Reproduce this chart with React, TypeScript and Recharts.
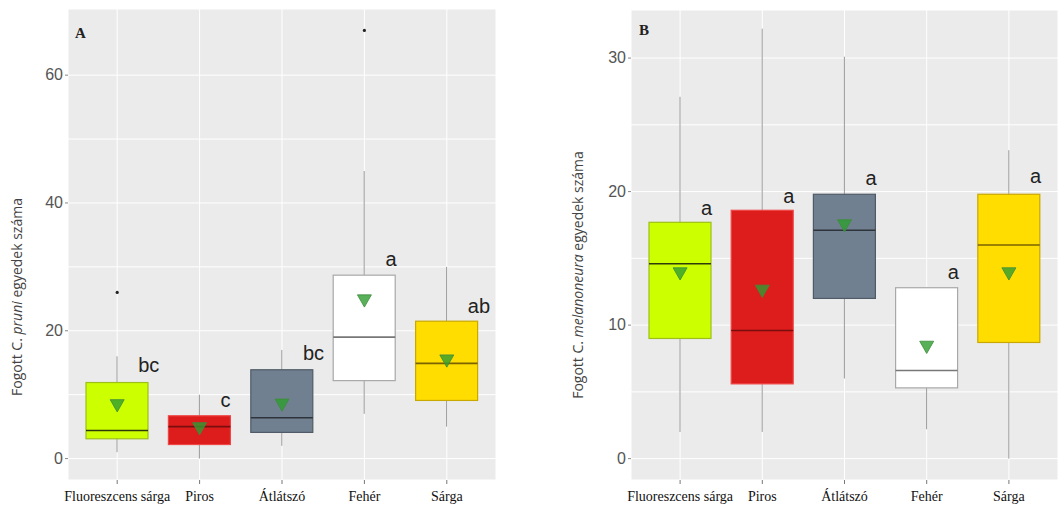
import React from 'react';
import { ComposedChart, Bar, Scatter, XAxis, YAxis, CartesianGrid } from 'recharts';

const categories = ['Fluoreszcens sárga', 'Piros', 'Átlátszó', 'Fehér', 'Sárga'];
const boxFills = ['#CCFF00', '#DD1C1C', '#708090', '#FFFFFF', '#FFDD00'];
const boxStrokes = ['#9DBF1A', '#F04545', '#4F5A66', '#A8A8A8', '#C9A800'];
const medianColors = ['#2F3A0C', '#7A0E0E', '#2E343B', '#777777', '#7A6200'];

// panel A – C. pruni
const aLow = [1, 0, 2, 7, 5];
const aQ1 = [3.1, 2.2, 4.1, 12.2, 9.1];
const aMedian = [4.4, 5, 6.4, 19, 14.9];
const aQ3 = [11.9, 6.7, 13.9, 28.7, 21.5];
const aHigh = [16, 10, 17, 45, 30];
const aMean = [8.4, 4.8, 8.5, 24.8, 15.4];
const aOutlier = [26, null, null, 67, null];
const aLetters = ['bc', 'c', 'bc', 'a', 'ab'];
const aLetterY = [14.6, 9.1, 16.5, 31.3, 23.8];
const aTicks = [0, 10, 20, 30, 40, 50, 60];

// panel B – C. melanoneura
const bLow = [2, 2, 6, 2.2, 0];
const bQ1 = [9, 5.6, 12, 5.3, 8.7];
const bMedian = [14.6, 9.6, 17.1, 6.6, 16];
const bQ3 = [17.7, 18.6, 19.8, 12.8, 19.8];
const bHigh = [27.1, 32.2, 30.1, 12.8, 23.1];
const bMean = [13.9, 12.6, 17.5, 8.4, 13.9];
const bOutlier = [null, null, null, null, null];
const bLetters = ['a', 'a', 'a', 'a', 'a'];
const bLetterY = [18.8, 19.7, 21.0, 14.0, 21.2];
const bTicks = [0, 5, 10, 15, 20, 25, 30];

const buildRows = (low, q1, med, q3, high, mean, outlier, letters, letterY) =>
  categories.map((name, i) => ({
    name,
    idx: i,
    whisker: [low[i], high[i]],
    box: [q1[i], q3[i]],
    q1: q1[i],
    q3: q3[i],
    median: med[i],
    mean: mean[i],
    outlier: outlier[i],
    letter: letters[i],
    letterY: letterY[i],
  }));

const dataA = buildRows(aLow, aQ1, aMedian, aQ3, aHigh, aMean, aOutlier, aLetters, aLetterY);
const dataB = buildRows(bLow, bQ1, bMedian, bQ3, bHigh, bMean, bOutlier, bLetters, bLetterY);

const WhiskerShape = (props: any) => {
  const { x, y, width, height } = props;
  const top = Math.min(y, y + height);
  const h = Math.abs(height);
  return <line x1={x + width / 2} x2={x + width / 2} y1={top} y2={top + h} stroke="#9a9a9a" strokeWidth={1} />;
};

const BoxShape = (props: any) => {
  const { x, y, width, height, payload } = props;
  const top = Math.min(y, y + height);
  const h = Math.abs(height);
  const i = payload.idx;
  // median position from the box's own scale
  const ym = top + ((payload.q3 - payload.median) / (payload.q3 - payload.q1)) * h;
  return (
    <g>
      <rect x={x} y={top} width={width} height={h} fill={boxFills[i]} stroke={boxStrokes[i]} strokeWidth={1.2} />
      <line x1={x} x2={x + width} y1={ym} y2={ym} stroke={medianColors[i]} strokeWidth={1.6} />
    </g>
  );
};

const MeanShape = (props: any) => {
  const { cx, cy } = props;
  if (cx == null || cy == null) return <g />;
  const s = 7;
  return (
    <path
      d={`M${cx - s},${cy - s * 0.75} L${cx + s},${cy - s * 0.75} L${cx},${cy + s} Z`}
      fill="#2E9E2E"
      fillOpacity={0.8}
      stroke="#3C8C3C"
      strokeWidth={0.8}
    />
  );
};

const OutlierShape = (props: any) => {
  const { cx, cy, payload } = props;
  if (payload == null || payload.outlier == null) return <g />;
  return <circle cx={cx} cy={cy} r={1.6} fill="#222" />;
};

const LetterShape = (props: any) => {
  const { cx, cy, payload } = props;
  if (!payload) return <g />;
  return (
    <text
      x={cx + 21}
      y={cy}
      dy={7}
      fill="#222"
      style={{ fontFamily: '"Liberation Sans Narrow", "Liberation Sans", Arial, sans-serif', fontSize: 20 }}
    >
      {payload.letter}
    </text>
  );
};

const makeYTick = (majorStep: number) => (props: any) => {
  const { x, y, payload } = props;
  if (payload.value % majorStep !== 0) return <g />;
  return (
    <g>
      <line x1={x + 2} x2={x + 5} y1={y} y2={y} stroke="#888" strokeWidth={1} />
      <text
        x={x}
        y={y}
        dy={5}
        textAnchor="end"
        fill="#555"
        style={{ fontFamily: '"Liberation Sans", Arial, sans-serif', fontSize: 16 }}
      >
        {payload.value}
      </text>
    </g>
  );
};

const XTick = (props: any) => {
  const { x, y, payload } = props;
  return (
    <text
      x={x}
      y={y}
      dy={15}
      textAnchor="middle"
      fill="#111"
      style={{ fontFamily: '"Liberation Serif", "Times New Roman", serif', fontSize: 14 }}
    >
      {payload.value}
    </text>
  );
};

const Panel = ({ data, domain, ticks, majorStep, yWidth, margin, width }: any) => (
  <ComposedChart
    width={width}
    height={516}
    data={data}
    margin={margin}
    barSize={62}
    barGap={-62}
  >
    <CartesianGrid fill="#EBEBEB" stroke="#FFFFFF" strokeWidth={1} />
    <XAxis
      dataKey="name"
      type="category"
      padding={{ left: 8, right: 8 }}
      axisLine={false}
      tickLine={{ stroke: '#777' }}
      tickSize={4}
      tickMargin={2}
      height={30}
      interval={0}
      tick={XTick}
    />
    <YAxis
      type="number"
      domain={domain}
      ticks={ticks}
      allowDataOverflow
      axisLine={false}
      tickLine={false}
      tickSize={3}
      tickMargin={2}
      width={yWidth}
      tick={makeYTick(majorStep)}
    />
    <Bar dataKey="whisker" shape={<WhiskerShape />} isAnimationActive={false} />
    <Bar dataKey="box" shape={<BoxShape />} isAnimationActive={false} />
    <Scatter dataKey="outlier" shape={<OutlierShape />} isAnimationActive={false} />
    <Scatter dataKey="mean" shape={<MeanShape />} isAnimationActive={false} />
    <Scatter dataKey="letterY" shape={<LetterShape />} isAnimationActive={false} />
  </ComposedChart>
);

export default function App() {
  const titleStyle = { fontFamily: '"Open Sans", "Liberation Sans", sans-serif', fontSize: 14 };
  const panelLabelStyle = { fontFamily: '"Liberation Serif", serif', fontSize: 15, fontWeight: 'bold' as const };
  return (
    <div style={{ position: 'absolute', left: 0, top: 0, width: 1062, height: 516, background: '#fff' }}>
      <div style={{ position: 'absolute', left: 0, top: 0 }}>
        <Panel
          data={dataA}
          domain={[-3.35, 70.35]}
          ticks={aTicks}
          majorStep={20}
          yWidth={68}
          width={530}
          margin={{ top: 9, right: 34, bottom: 6, left: 0 }}
        />
      </div>
      <div style={{ position: 'absolute', left: 531, top: 0 }}>
        <Panel
          data={dataB}
          domain={[-1.6, 33.6]}
          ticks={bTicks}
          majorStep={10}
          yWidth={100}
          width={531}
          margin={{ top: 10, right: 4, bottom: 6, left: 0 }}
        />
      </div>
      <svg width={1062} height={516} style={{ position: 'absolute', left: 0, top: 0, pointerEvents: 'none' }}>
        <text x={75} y={38} fill="#222" style={panelLabelStyle}>A</text>
        <text x={639} y={35} fill="#222" style={panelLabelStyle}>B</text>
        <text transform="translate(22,297) rotate(-90)" textAnchor="middle" fill="#444" style={titleStyle}>
          Fogott C. <tspan fontStyle="italic">pruni</tspan> egyedek száma
        </text>
        <text transform="translate(583,275) rotate(-90)" textAnchor="middle" fill="#444" style={titleStyle}>
          Fogott C. <tspan fontStyle="italic">melanoneura</tspan> egyedek száma
        </text>
      </svg>
    </div>
  );
}
